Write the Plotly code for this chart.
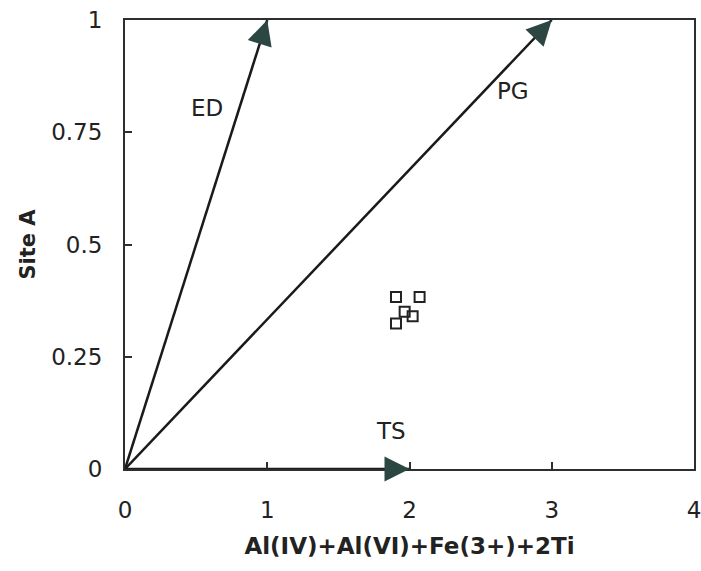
import plotly.graph_objects as go

# Sample points (Site A vs Al(IV)+Al(VI)+Fe(3+)+2Ti)
pts_x = [1.905, 2.071, 1.966, 2.022, 1.905]
pts_y = [0.383, 0.383, 0.350, 0.340, 0.324]

# Substitution vectors (start at origin)
vec_names = ["ED", "PG", "TS"]
vec_end_x = [1, 3, 2]
vec_end_y = [1, 1, 0]
label_x = [0.576, 2.728, 1.870]
label_y = [0.804, 0.842, 0.085]

x_ticks = [0, 1, 2, 3, 4]
x_ticktext = ["0", "1", "2", "3", "4"]
y_ticks = [0, 0.25, 0.5, 0.75, 1]
y_ticktext = ["0", "0.25", "0.5", "0.75", "1"]

LINE = "#1a1a1a"
HEAD = "#2c4742"
AX = "#2b2f2e"
FONT = "DejaVu Sans"

fig = go.Figure()

for ex, ey in zip(vec_end_x, vec_end_y):
    fig.add_trace(go.Scatter(x=[0, ex], y=[0, ey], mode="lines",
                             line=dict(color=LINE, width=2.5),
                             hoverinfo="skip", showlegend=False, cliponaxis=False))

fig.add_trace(go.Scatter(x=pts_x, y=pts_y, mode="markers",
                         marker=dict(symbol="square-open", size=10, color="#222",
                                     line=dict(width=2, color="#222")),
                         showlegend=False))

# arrowheads: short arrows near each tip
frac = {"ED": 0.05, "PG": 0.04, "TS": 0.09}
for name, ex, ey in zip(vec_names, vec_end_x, vec_end_y):
    f = frac[name]
    fig.add_annotation(x=ex, y=ey, xref="x", yref="y",
                       ax=ex * (1 - f), ay=ey * (1 - f), axref="x", ayref="y",
                       text="", showarrow=True, arrowhead=2, arrowsize=2.0,
                       arrowwidth=2.5, arrowcolor=HEAD)

for name, lx, ly in zip(vec_names, label_x, label_y):
    fig.add_annotation(x=lx, y=ly, xref="x", yref="y", text=name, showarrow=False,
                       font=dict(family=FONT, size=23, color="#222"))

fig.update_layout(
    width=701, height=571,
    margin=dict(l=125, r=7, t=20, b=102, autoexpand=False),
    paper_bgcolor="white", plot_bgcolor="white",
    font=dict(family=FONT, color="#222"),
    xaxis=dict(range=[0, 4], tickvals=x_ticks, ticktext=x_ticktext,
               showgrid=False, zeroline=False, showline=True, mirror=True,
               linecolor=AX, linewidth=2, ticks="inside", ticklen=7,
               tickwidth=1.5, tickcolor=AX, tickfont=dict(size=23, family=FONT),
               ticklabelstandoff=19, automargin=False, ticklabeloverflow="allow",
               title=dict(text="<b>Al(IV)+Al(VI)+Fe(3+)+2Ti</b>",
                          font=dict(size=23, family=FONT), standoff=16)),
    yaxis=dict(range=[0, 1], tickvals=y_ticks, ticktext=y_ticktext,
               showgrid=False, zeroline=False, showline=True, mirror=True,
               linecolor=AX, linewidth=2, ticks="inside", ticklen=7,
               tickwidth=1.5, tickcolor=AX, tickfont=dict(size=23, family=FONT),
               ticklabelstandoff=16, automargin=False, ticklabeloverflow="allow",
               title=dict(text="<b>Site A</b>", font=dict(size=21, family=FONT),
                          standoff=10)),
)

fig.write_html("out.html", config={"displayModeBar": False},
               post_script="document.body.style.margin='0';document.body.style.overflow='hidden';")
